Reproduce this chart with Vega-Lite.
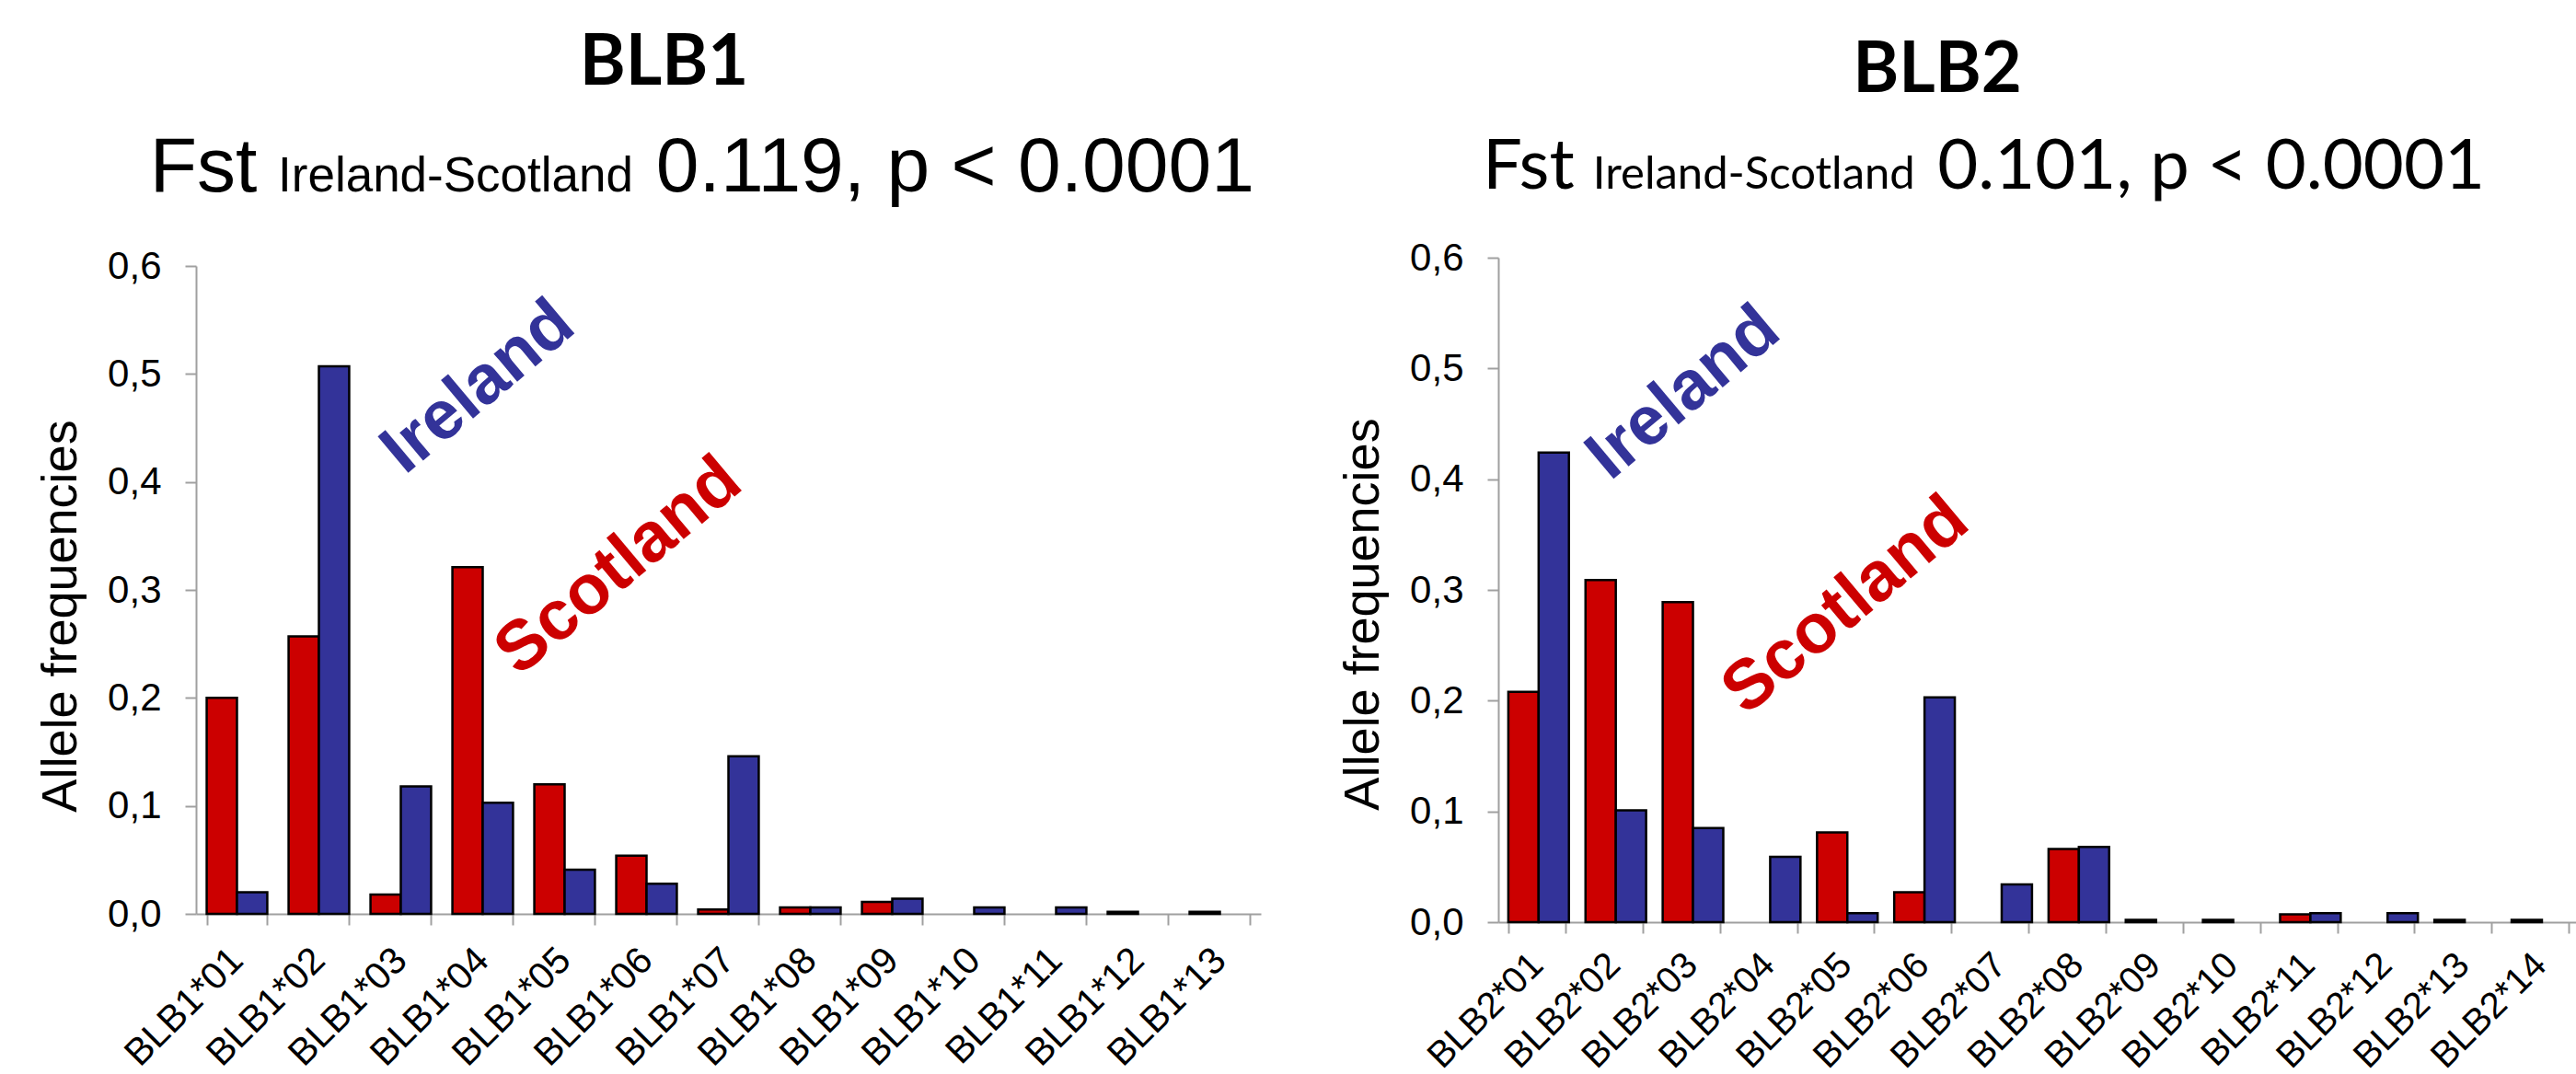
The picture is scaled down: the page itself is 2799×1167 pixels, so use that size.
{
  "$schema": "https://vega.github.io/schema/vega-lite/v6.json",
  "background": "white",
  "padding": {"left": 39, "top": 31, "right": 0, "bottom": 0},
  "datasets": {
    "blb1": [
      {"allele": "BLB1*01", "pop": "Scotland", "freq": 0.200},
      {"allele": "BLB1*01", "pop": "Ireland", "freq": 0.020},
      {"allele": "BLB1*02", "pop": "Scotland", "freq": 0.257},
      {"allele": "BLB1*02", "pop": "Ireland", "freq": 0.507},
      {"allele": "BLB1*03", "pop": "Scotland", "freq": 0.018},
      {"allele": "BLB1*03", "pop": "Ireland", "freq": 0.118},
      {"allele": "BLB1*04", "pop": "Scotland", "freq": 0.321},
      {"allele": "BLB1*04", "pop": "Ireland", "freq": 0.103},
      {"allele": "BLB1*05", "pop": "Scotland", "freq": 0.120},
      {"allele": "BLB1*05", "pop": "Ireland", "freq": 0.041},
      {"allele": "BLB1*06", "pop": "Scotland", "freq": 0.054},
      {"allele": "BLB1*06", "pop": "Ireland", "freq": 0.028},
      {"allele": "BLB1*07", "pop": "Scotland", "freq": 0.004},
      {"allele": "BLB1*07", "pop": "Ireland", "freq": 0.146},
      {"allele": "BLB1*08", "pop": "Scotland", "freq": 0.006},
      {"allele": "BLB1*08", "pop": "Ireland", "freq": 0.006},
      {"allele": "BLB1*09", "pop": "Scotland", "freq": 0.011},
      {"allele": "BLB1*09", "pop": "Ireland", "freq": 0.014},
      {"allele": "BLB1*10", "pop": "Ireland", "freq": 0.006},
      {"allele": "BLB1*11", "pop": "Ireland", "freq": 0.006},
      {"allele": "BLB1*12", "pop": "Scotland", "freq": 0.002},
      {"allele": "BLB1*13", "pop": "Scotland", "freq": 0.002}
    ],
    "blb2": [
      {"allele": "BLB2*01", "pop": "Scotland", "freq": 0.208},
      {"allele": "BLB2*01", "pop": "Ireland", "freq": 0.424},
      {"allele": "BLB2*02", "pop": "Scotland", "freq": 0.309},
      {"allele": "BLB2*02", "pop": "Ireland", "freq": 0.101},
      {"allele": "BLB2*03", "pop": "Scotland", "freq": 0.289},
      {"allele": "BLB2*03", "pop": "Ireland", "freq": 0.085},
      {"allele": "BLB2*04", "pop": "Ireland", "freq": 0.059},
      {"allele": "BLB2*05", "pop": "Scotland", "freq": 0.081},
      {"allele": "BLB2*05", "pop": "Ireland", "freq": 0.008},
      {"allele": "BLB2*06", "pop": "Scotland", "freq": 0.027},
      {"allele": "BLB2*06", "pop": "Ireland", "freq": 0.203},
      {"allele": "BLB2*07", "pop": "Ireland", "freq": 0.034},
      {"allele": "BLB2*08", "pop": "Scotland", "freq": 0.066},
      {"allele": "BLB2*08", "pop": "Ireland", "freq": 0.068},
      {"allele": "BLB2*09", "pop": "Scotland", "freq": 0.002},
      {"allele": "BLB2*10", "pop": "Scotland", "freq": 0.002},
      {"allele": "BLB2*11", "pop": "Scotland", "freq": 0.007},
      {"allele": "BLB2*11", "pop": "Ireland", "freq": 0.008},
      {"allele": "BLB2*12", "pop": "Ireland", "freq": 0.008},
      {"allele": "BLB2*13", "pop": "Scotland", "freq": 0.002},
      {"allele": "BLB2*14", "pop": "Scotland", "freq": 0.002}
    ]
  },
  "spacing": 258,
  "bounds": "flush",
  "center": true,
  "hconcat": [
    {
      "width": 1157,
      "height": 704,
      "title": {"text": "BLB1", "font": "Lato", "fontWeight": "bold", "fontSize": 76, "color": "black", "anchor": "middle", "dx": -70, "offset": 33},
      "layer": [
        {
          "data": {"name": "blb1"},
          "mark": {"type": "bar", "stroke": "black", "strokeWidth": 2.5},
          "encoding": {
            "x": {"field": "allele", "type": "nominal",
              "scale": {"domain": ["BLB1*01","BLB1*02","BLB1*03","BLB1*04","BLB1*05","BLB1*06","BLB1*07","BLB1*08","BLB1*09","BLB1*10","BLB1*11","BLB1*12","BLB1*13"], "paddingInner": 0.26, "paddingOuter": 0.13},
              "axis": {"title": null, "labelAngle": -45, "labelFontSize": 41, "labelColor": "black", "labelFont": "Liberation Sans", "labelAlign": "right", "labelBaseline": "middle", "labelPadding": 32, "labelLimit": 400, "domainColor": "#A0A0A0", "domainWidth": 2, "tickColor": "#A0A0A0", "tickWidth": 2, "tickSize": 12, "tickBand": "extent"}},
            "xOffset": {"field": "pop", "type": "nominal", "scale": {"domain": ["Scotland", "Ireland"], "paddingInner": 0, "paddingOuter": 0}},
            "y": {"field": "freq", "type": "quantitative",
              "scale": {"domain": [0, 0.6], "nice": false},
              "axis": {"title": "Allele frequencies", "values": [0, 0.1, 0.2, 0.3, 0.4, 0.5, 0.6], "labelExpr": "replace(format(datum.value, '.1f'), '.', ',')", "grid": false, "labelFontSize": 42, "labelColor": "black", "labelFont": "Liberation Sans", "labelPadding": 26, "titleFont": "Liberation Sans", "titleFontSize": 54, "titleFontWeight": "normal", "titleColor": "black", "titlePadding": 23, "titleY": 380, "domainColor": "#A0A0A0", "domainWidth": 2, "tickColor": "#A0A0A0", "tickWidth": 2, "tickSize": 12}},
            "color": {"field": "pop", "type": "nominal", "scale": {"domain": ["Scotland", "Ireland"], "range": ["#CC0000", "#333399"]}, "legend": null}
          }
        },
        {
          "data": {"values": [{}]},
          "mark": {"type": "text", "text": "Ireland", "font": "Liberation Sans", "fontWeight": "bold", "fontSize": 75, "color": "#333399", "angle": 320, "align": "center", "baseline": "middle"},
          "encoding": {"x": {"datum": "BLB1*04", "bandPosition": 0.42}, "y": {"datum": 0.488}}
        },
        {
          "data": {"values": [{}]},
          "mark": {"type": "text", "text": "Scotland", "font": "Liberation Sans", "fontWeight": "bold", "fontSize": 76, "color": "#CC0000", "angle": 320, "align": "center", "baseline": "middle"},
          "encoding": {"x": {"datum": "BLB1*06", "bandPosition": 0.04}, "y": {"datum": 0.322}}
        },
        {
          "data": {"values": [{}]},
          "mark": {"type": "text", "text": "Fst", "font": "Liberation Sans", "fontSize": 84, "color": "black", "align": "left", "baseline": "alphabetic"},
          "encoding": {"x": {"datum": "BLB1*01", "bandPosition": -0.94}, "y": {"datum": 0.669}}
        },
        {
          "data": {"values": [{}]},
          "mark": {"type": "text", "text": "Ireland-Scotland", "font": "Liberation Sans", "fontSize": 53, "color": "black", "align": "left", "baseline": "alphabetic"},
          "encoding": {"x": {"datum": "BLB1*02", "bandPosition": -0.175}, "y": {"datum": 0.669}}
        },
        {
          "data": {"values": [{}]},
          "mark": {"type": "text", "text": "0.119, p < 0.0001", "font": "Liberation Sans", "fontSize": 84, "color": "black", "align": "left", "baseline": "alphabetic"},
          "encoding": {"x": {"datum": "BLB1*06", "bandPosition": 0.657}, "y": {"datum": 0.669}}
        }
      ]
    },
    {
      "width": 1174,
      "height": 722,
      "title": {"text": "BLB2", "font": "Lato", "fontWeight": "bold", "fontSize": 76, "color": "black", "anchor": "middle", "dx": -110, "offset": 28},
      "layer": [
        {
          "data": {"name": "blb2"},
          "mark": {"type": "bar", "stroke": "black", "strokeWidth": 2.5},
          "encoding": {
            "x": {"field": "allele", "type": "nominal",
              "scale": {"domain": ["BLB2*01","BLB2*02","BLB2*03","BLB2*04","BLB2*05","BLB2*06","BLB2*07","BLB2*08","BLB2*09","BLB2*10","BLB2*11","BLB2*12","BLB2*13","BLB2*14"], "paddingInner": 0.26, "paddingOuter": 0.13},
              "axis": {"title": null, "labelAngle": -45, "labelFontSize": 40, "labelColor": "black", "labelFont": "Liberation Sans", "labelAlign": "right", "labelBaseline": "middle", "labelPadding": 28, "labelLimit": 400, "domainColor": "#A0A0A0", "domainWidth": 2, "tickColor": "#A0A0A0", "tickWidth": 2, "tickSize": 12, "tickBand": "extent"}},
            "xOffset": {"field": "pop", "type": "nominal", "scale": {"domain": ["Scotland", "Ireland"], "paddingInner": 0, "paddingOuter": 0}},
            "y": {"field": "freq", "type": "quantitative",
              "scale": {"domain": [0, 0.6], "nice": false},
              "axis": {"title": "Allele frequencies", "values": [0, 0.1, 0.2, 0.3, 0.4, 0.5, 0.6], "labelExpr": "replace(format(datum.value, '.1f'), '.', ',')", "grid": false, "labelFontSize": 42, "labelColor": "black", "labelFont": "Liberation Sans", "labelPadding": 26, "titleFont": "Liberation Sans", "titleFontSize": 54, "titleFontWeight": "normal", "titleColor": "black", "titlePadding": 23, "titleY": 387, "domainColor": "#A0A0A0", "domainWidth": 2, "tickColor": "#A0A0A0", "tickWidth": 2, "tickSize": 12}},
            "color": {"field": "pop", "type": "nominal", "scale": {"domain": ["Scotland", "Ireland"], "range": ["#CC0000", "#333399"]}, "legend": null}
          }
        },
        {
          "data": {"values": [{}]},
          "mark": {"type": "text", "text": "Ireland", "font": "Liberation Sans", "fontWeight": "bold", "fontSize": 75, "color": "#333399", "angle": 320, "align": "center", "baseline": "middle"},
          "encoding": {"x": {"datum": "BLB2*03", "bandPosition": 0.36}, "y": {"datum": 0.478}}
        },
        {
          "data": {"values": [{}]},
          "mark": {"type": "text", "text": "Scotland", "font": "Liberation Sans", "fontWeight": "bold", "fontSize": 76, "color": "#CC0000", "angle": 320, "align": "center", "baseline": "middle"},
          "encoding": {"x": {"datum": "BLB2*05", "bandPosition": 0.5}, "y": {"datum": 0.286}}
        },
        {
          "data": {"values": [{}]},
          "mark": {"type": "text", "text": "Fst", "font": "Lato", "fontSize": 76, "color": "black", "align": "left", "baseline": "alphabetic"},
          "encoding": {"x": {"datum": "BLB2*01", "bandPosition": -0.45}, "y": {"datum": 0.662}}
        },
        {
          "data": {"values": [{}]},
          "mark": {"type": "text", "text": "Ireland-Scotland", "font": "Lato", "fontSize": 49, "color": "black", "align": "left", "baseline": "alphabetic"},
          "encoding": {"x": {"datum": "BLB2*02", "bandPosition": 0.13}, "y": {"datum": 0.662}}
        },
        {
          "data": {"values": [{}]},
          "mark": {"type": "text", "text": "0.101, p < 0.0001", "font": "Lato", "fontSize": 76, "color": "black", "align": "left", "baseline": "alphabetic"},
          "encoding": {"x": {"datum": "BLB2*06", "bandPosition": 0.757}, "y": {"datum": 0.662}}
        }
      ]
    }
  ],
  "config": {
    "view": {"stroke": null},
    "font": "Liberation Sans"
  }
}
